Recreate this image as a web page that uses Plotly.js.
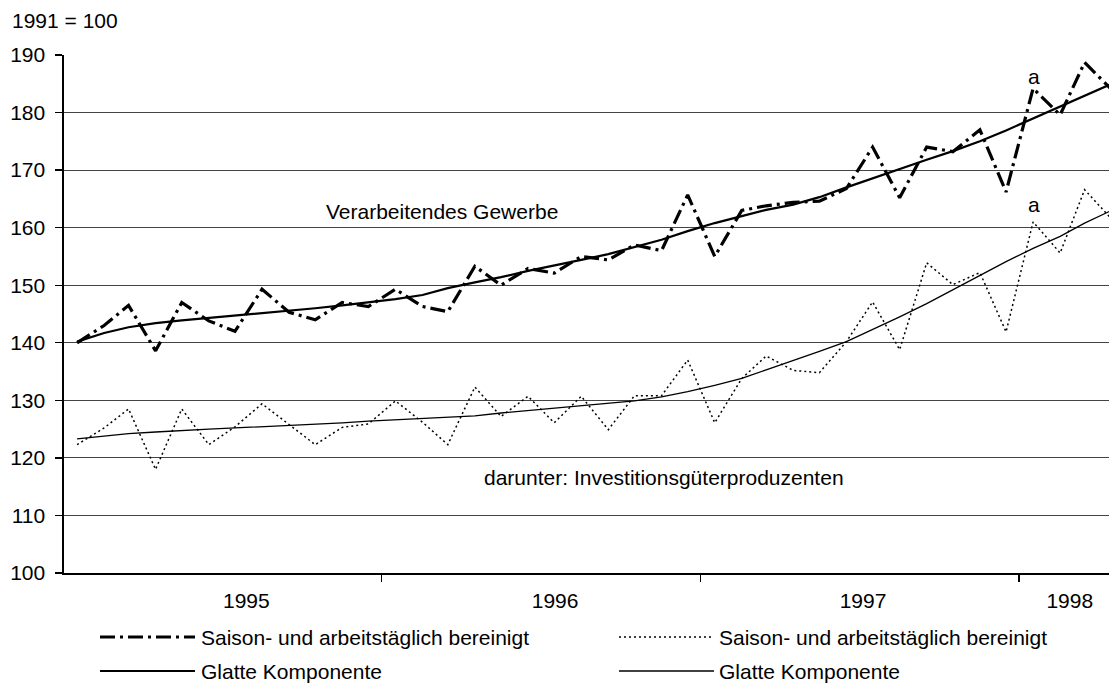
<!DOCTYPE html>
<html>
<head>
<meta charset="utf-8">
<script src="https://cdn.plot.ly/plotly-3.0.1.min.js"></script>
<style>
html,body{margin:0;padding:0;background:#ffffff;}
#chart{width:1109px;height:686px;}
</style>
</head>
<body>
<div id="chart"></div>
<script>
// ---------------- data ----------------
const months = [
  '1995-01','1995-02','1995-03','1995-04','1995-05','1995-06','1995-07','1995-08','1995-09','1995-10','1995-11','1995-12',
  '1996-01','1996-02','1996-03','1996-04','1996-05','1996-06','1996-07','1996-08','1996-09','1996-10','1996-11','1996-12',
  '1997-01','1997-02','1997-03','1997-04','1997-05','1997-06','1997-07','1997-08','1997-09','1997-10','1997-11','1997-12',
  '1998-01','1998-02','1998-03','1998-04'
];

// Verarbeitendes Gewerbe – saison- und arbeitstäglich bereinigt
const gewerbeBereinigt = [
  140.0,143.0,146.5,138.6,147.0,143.8,142.0,149.3,145.3,144.0,147.0,146.3,
  149.3,146.3,145.4,153.3,150.0,152.9,152.1,155.0,154.4,157.0,156.0,165.7,
  155.0,163.0,163.8,164.4,164.6,166.8,174.0,165.2,174.0,173.2,177.0,166.2,
  184.2,179.6,188.7,184.0
];
// Verarbeitendes Gewerbe – glatte Komponente
const gewerbeGlatt = [
  140.2,141.7,142.7,143.4,143.9,144.3,144.8,145.2,145.5,146.0,146.5,147.0,
  147.6,148.3,149.5,150.5,151.4,152.5,153.4,154.4,155.4,156.6,157.9,159.4,
  160.8,162.0,163.1,164.0,165.3,167.0,168.6,170.2,171.8,173.3,175.0,176.9,
  179.0,181.0,183.0,185.0
];
// darunter: Investitionsgüterproduzenten – saison- und arbeitstäglich bereinigt
const investBereinigt = [
  122.3,125.2,128.5,118.0,128.5,122.3,125.4,129.4,125.8,122.3,125.3,125.9,
  129.9,126.2,122.3,132.3,127.2,130.7,126.1,130.7,124.9,130.8,130.8,137.0,
  126.1,133.8,137.7,135.2,134.8,140.2,147.1,138.8,153.9,150.1,152.2,141.9,
  161.0,155.6,166.6,161.5
];
// darunter: Investitionsgüterproduzenten – glatte Komponente
const investGlatt = [
  123.3,123.8,124.2,124.5,124.8,125.0,125.2,125.4,125.7,125.9,126.1,126.4,
  126.6,126.8,127.0,127.3,127.8,128.2,128.6,129.0,129.4,129.9,130.6,131.5,
  132.6,133.8,135.3,136.9,138.5,140.2,142.3,144.5,146.8,149.2,151.7,154.1,
  156.4,158.5,160.8,163.0
];

const yTickVals = [100,110,120,130,140,150,160,170,180,190];
const gridVals = [110,120,130,140,150,160,170,180];
const yearLabels = ['1995','1996','1997','1998'];
const yearLabelDates = ['1995-07-14','1996-07-02','1997-06-20','1998-02-12'];
const yearBoundaryDates = ['1995-12-16','1996-12-16','1997-12-16'];
const footnoteMonth = '1998-01';

const seriesLabel = 'Saison- und arbeitstäglich bereinigt';
const trendLabel = 'Glatte Komponente';
const baseLabel = '1991 = 100';
const upperLabel = 'Verarbeitendes Gewerbe';
const lowerLabel = 'darunter: Investitionsgüterproduzenten';
const footnoteMark = 'a';

// ---------------- layout helpers ----------------
const W = 1109, H = 686;
const M = {l: 64, r: 0, t: 55, b: 113};
const PW = W - M.l - M.r, PH = H - M.t - M.b;
const px = x => (x - M.l) / PW;          // pixel x -> paper x
const py = y => (H - M.b - y) / PH;      // pixel y -> paper y

const FONT = 'Liberation Sans, Arial, Helvetica, sans-serif';
const FS = 21;
const xRange = ['1994-12-17', '1998-03-29'];
const yRange = [100, 190];

const DASHDOT = '15px,5px,3px,5px';
const DOTS = '2px,3px';

// helper trace keeps the base (grid / year-boundary) axes alive; invisible
const helper = {x: months, y: gewerbeGlatt, xaxis: 'x', yaxis: 'y', mode: 'lines',
  line: {width: 0, color: 'rgba(0,0,0,0)'}, opacity: 0, hoverinfo: 'skip'};

const traces = [
  helper,
  {x: months, y: gewerbeGlatt, xaxis: 'x2', yaxis: 'y2', mode: 'lines', line: {color: '#000', width: 2.2}, name: trendLabel},
  {x: months, y: gewerbeBereinigt, xaxis: 'x2', yaxis: 'y2', mode: 'lines', line: {color: '#000', width: 3.2, dash: DASHDOT}, name: seriesLabel},
  {x: months, y: investGlatt, xaxis: 'x2', yaxis: 'y2', mode: 'lines', line: {color: '#000', width: 1.3}, name: trendLabel},
  {x: months, y: investBereinigt, xaxis: 'x2', yaxis: 'y2', mode: 'lines', line: {color: '#000', width: 1.5, dash: DOTS}, name: seriesLabel}
];

const fi = months.indexOf(footnoteMonth);
const txt = {family: FONT, size: FS, color: '#000'};

const annotations = [
  {xref: 'paper', yref: 'paper', x: px(10), y: py(20), xanchor: 'left', yanchor: 'middle',
   text: baseLabel, showarrow: false, font: txt},
  {xref: 'paper', yref: 'paper', x: px(442), y: py(212), xanchor: 'center', yanchor: 'middle',
   text: upperLabel, showarrow: false, font: txt},
  {xref: 'paper', yref: 'paper', x: px(664), y: py(477), xanchor: 'center', yanchor: 'middle',
   text: lowerLabel, showarrow: false, font: txt},
  {xref: 'x2', yref: 'y2', x: months[fi], y: gewerbeBereinigt[fi], xshift: 1, yshift: -2, xanchor: 'center', yanchor: 'bottom',
   text: footnoteMark, showarrow: false, font: txt},
  {xref: 'x2', yref: 'y2', x: months[fi], y: investBereinigt[fi], xshift: 1, yshift: 4, xanchor: 'center', yanchor: 'bottom',
   text: footnoteMark, showarrow: false, font: txt},
  // legend texts
  {xref: 'paper', yref: 'paper', x: px(199), y: py(637), xanchor: 'left', yanchor: 'middle',
   text: seriesLabel, showarrow: false, font: txt},
  {xref: 'paper', yref: 'paper', x: px(199), y: py(671), xanchor: 'left', yanchor: 'middle',
   text: trendLabel, showarrow: false, font: txt},
  {xref: 'paper', yref: 'paper', x: px(717), y: py(637), xanchor: 'left', yanchor: 'middle',
   text: seriesLabel, showarrow: false, font: txt},
  {xref: 'paper', yref: 'paper', x: px(717), y: py(671), xanchor: 'left', yanchor: 'middle',
   text: trendLabel, showarrow: false, font: txt}
];

const shapes = [
  {type: 'line', xref: 'paper', yref: 'paper', x0: px(100), x1: px(195), y0: py(637), y1: py(637),
   line: {color: '#000', width: 3.2, dash: DASHDOT}},
  {type: 'line', xref: 'paper', yref: 'paper', x0: px(100), x1: px(195), y0: py(671), y1: py(671),
   line: {color: '#000', width: 2.2}},
  {type: 'line', xref: 'paper', yref: 'paper', x0: px(619), x1: px(714), y0: py(637), y1: py(637),
   line: {color: '#000', width: 1.5, dash: DOTS}},
  {type: 'line', xref: 'paper', yref: 'paper', x0: px(619), x1: px(714), y0: py(671), y1: py(671),
   line: {color: '#000', width: 1.3}}
];

const layout = {
  width: W, height: H,
  margin: M,
  paper_bgcolor: '#fff', plot_bgcolor: 'rgba(0,0,0,0)',
  showlegend: false,
  font: txt,
  // base axes: gridlines and year-boundary tick marks
  xaxis: {
    type: 'date', range: xRange, fixedrange: true,
    tickmode: 'array', tickvals: yearBoundaryDates,
    ticks: 'outside', ticklen: 7, tickwidth: 1.4, tickcolor: '#000',
    showticklabels: false, showgrid: false, zeroline: false,
    showline: true, linecolor: '#000', linewidth: 1.6
  },
  yaxis: {
    range: yRange, fixedrange: true,
    tickmode: 'array', tickvals: gridVals,
    ticks: '', showticklabels: false, zeroline: false,
    showline: false,
    showgrid: true, gridcolor: '#444', gridwidth: 1
  },
  // overlay axes: data, year labels and value labels
  xaxis2: {
    type: 'date', range: xRange, overlaying: 'x', anchor: 'y2', side: 'bottom', fixedrange: true,
    tickmode: 'array', tickvals: yearLabelDates, ticktext: yearLabels,
    ticks: '', showgrid: false, zeroline: false, showline: false,
    ticklabelstandoff: 13,
    tickfont: txt
  },
  yaxis2: {
    range: yRange, overlaying: 'y', anchor: 'x2', side: 'left', fixedrange: true,
    tickmode: 'array', tickvals: yTickVals,
    ticks: 'outside', ticklen: 7, tickwidth: 1.4, tickcolor: '#000',
    showgrid: false, zeroline: false,
    showline: true, linecolor: '#000', linewidth: 1.6,
    ticklabelstandoff: 6,
    tickfont: txt
  },
  annotations: annotations,
  shapes: shapes
};

Plotly.newPlot('chart', traces, layout, {staticPlot: true, displayModeBar: false});
</script>
</body>
</html>
